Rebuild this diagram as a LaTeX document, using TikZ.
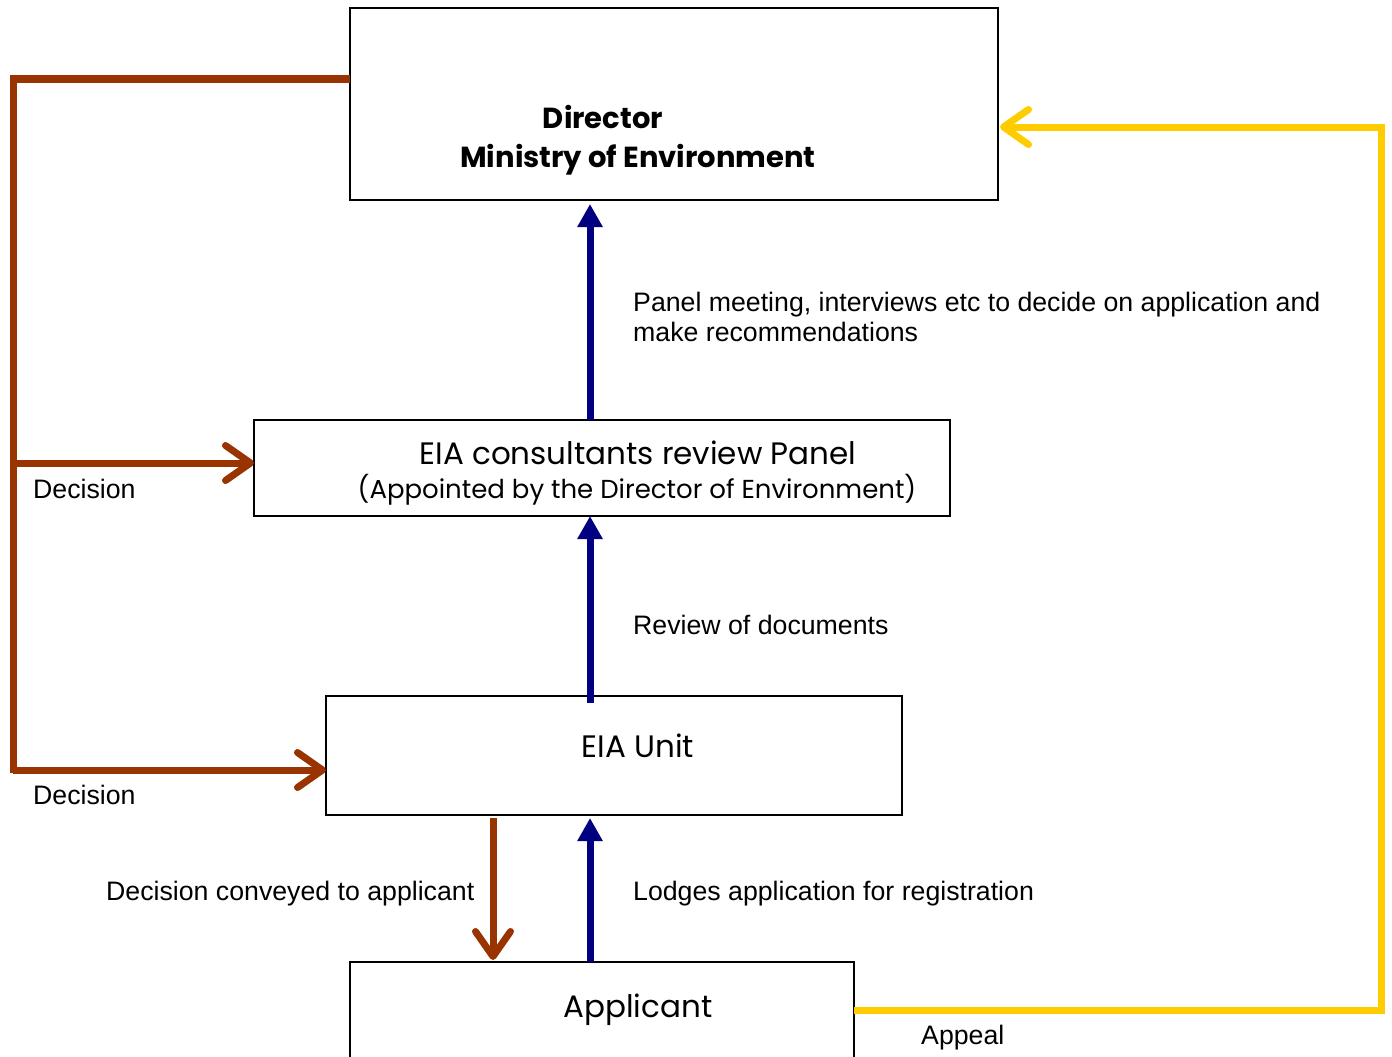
\documentclass[tikz,border=0pt]{standalone}
\usepackage{fontspec}
\setmainfont{Liberation Sans}
\newfontfamily\gothic{Poppins}
\usetikzlibrary{arrows.meta}
\definecolor{navyc}{HTML}{000080}
\definecolor{brownc}{HTML}{993300}
\definecolor{goldc}{HTML}{FFCC00}
\begin{document}
\begin{tikzpicture}[x=1pt,y=-1pt,
  box/.style={draw=black, line width=2pt, inner sep=0pt, outer sep=0pt, anchor=north west},
  boxtext/.style={font=\gothic\fontsize{27}{32}\selectfont, anchor=base, inner sep=0pt},
  boldtext/.style={font=\gothic\bfseries\fontsize{29}{34}\selectfont, anchor=base, inner sep=0pt},
  lbl/.style={font=\fontsize{26.7}{30}\selectfont, anchor=base west, inner sep=0pt},
  bluearrow/.style={draw=navyc, line width=7pt, -{Triangle[length=23pt,width=24pt]}},
  brownline/.style={draw=brownc, line width=7pt},
  barb/.style={-{Straight Barb[length=25pt,width=35pt,line cap=round,line join=round]}},
  brownarrow/.style={draw=brownc, line width=7pt, barb},
  goldarrow/.style={draw=goldc, line width=7pt, barb}
]
\useasboundingbox (0,0) rectangle (1392,1057);
\fill[white] (0,0) rectangle (1392,1057);

% boxes
\node[box, minimum width=648pt, minimum height=192pt] (dir) at (350,8) {};
\node[box, minimum width=696pt, minimum height=96pt] (pan) at (254,420) {};
\node[box, minimum width=576pt, minimum height=119pt] (unit) at (326,696) {};
\node[box, minimum width=504pt, minimum height=130pt] (app) at (350,962) {};

% box texts
\node[boldtext] (dirt1) at (603,128) {Director};
\node[boldtext] (dirt2) at (638,167) {Ministry of Environment};
\node[boxtext, font=\gothic\fontsize{31}{34}\selectfont] (pant1) at (638,464) {EIA consultants review Panel};
\node[boxtext, font=\gothic\fontsize{26}{32}\selectfont] (pant2) at (637,498) {(Appointed by the Director of Environment)};
\node[boxtext, font=\gothic\fontsize{31}{34}\selectfont] (unitt) at (638,757) {EIA Unit};
\node[boxtext, font=\gothic\fontsize{31}{34}\selectfont] (appt) at (638,1017) {Applicant};

% coordinates
\coordinate (xb) at (590,0);
\coordinate (xr) at (493,0);
\coordinate (tl) at (350,79);
\coordinate (tlc) at (13,79);
\coordinate (blc) at (13,773);
\coordinate (d1) at (13,463);
\coordinate (d2) at (13,770);
\coordinate (ap) at (1381,1010);
\coordinate (apt) at (1381,127);

% blue arrows
\draw[bluearrow, shorten >=4pt] (pan.north -| xb) -- (dir.south -| xb);
\draw[bluearrow] ([yshift=-7pt]unit.north -| xb) -- (pan.south -| xb);
\draw[bluearrow, shorten >=3pt] (app.north -| xb) -- (unit.south -| xb);

% brown
\draw[brownline] (tl) -- (tlc) -- (blc);
\draw[brownarrow] (d1) -- (pan.west |- d1);
\draw[brownarrow] (d2) -- (unit.west |- d2);
\draw[brownarrow, shorten <=3pt, shorten >=2pt] (unit.south -| xr) -- (app.north -| xr);

% gold
\draw[goldarrow, shorten >=2pt] (app.east |- ap) -- (ap) -- (apt) -- (dir.east |- apt);

% labels
\node[lbl] (l1) at (633,311) {Panel meeting, interviews etc to decide on application and};
\node[lbl] (l2) at (633,341) {make recommendations};
\node[lbl] (l3) at (633,634) {Review of documents};
\node[lbl] (l4) at (633,900) {Lodges application for registration};
\node[lbl] (l5) at (106,900) {Decision conveyed to applicant};
\node[lbl] (l6) at (33,498) {Decision};
\node[lbl] (l7) at (33,804) {Decision};
\node[lbl] (l8) at (921,1044) {Appeal};
\end{tikzpicture}
\end{document}
